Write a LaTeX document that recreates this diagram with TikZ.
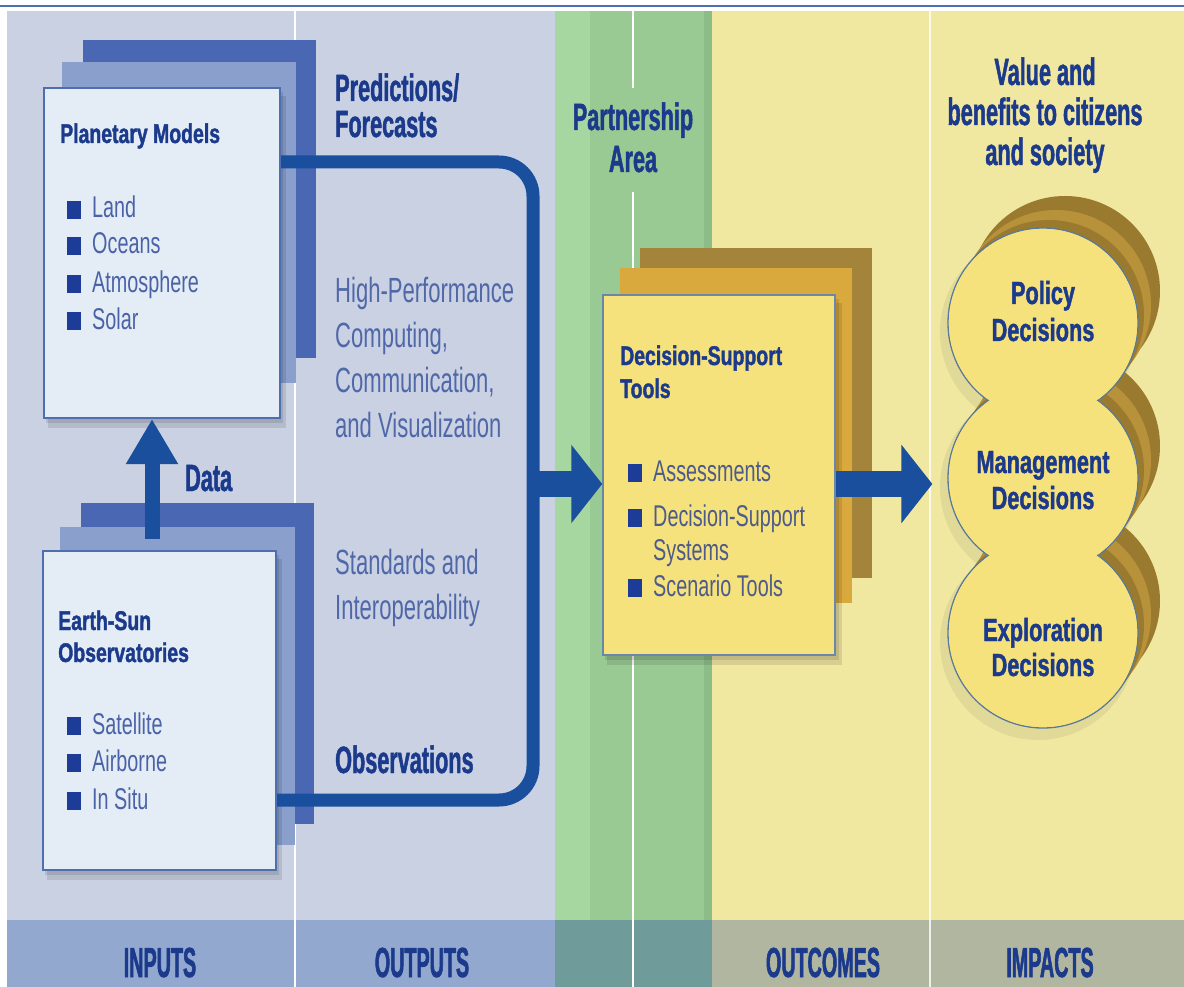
\documentclass[tikz,border=0pt]{standalone}
\usepackage{fontspec}
\usetikzlibrary{arrows.meta,calc}
\newfontfamily\fHdr{Liberation Sans}[FakeStretch=0.57, BoldFeatures={FakeBold=1.2}]
\newfontfamily\fTtl{Liberation Sans}[FakeStretch=0.72, BoldFeatures={FakeBold=1.4}]
\newfontfamily\fCir{Liberation Sans}[FakeStretch=0.68, BoldFeatures={FakeBold=1.3}]
\newfontfamily\fBody{Liberation Sans}[FakeStretch=0.63]
\newfontfamily\fItem{Liberation Sans}[FakeStretch=0.66]
\newfontfamily\fBot{Liberation Sans}[FakeStretch=0.47, BoldFeatures={FakeBold=1.3}]
\definecolor{navy}{HTML}{1B3A8C}
\definecolor{bodyblue}{HTML}{5068A8}
\definecolor{itemblue}{HTML}{4B63A6}
\definecolor{dsitem}{HTML}{4D5B8A}
\definecolor{bulcol}{HTML}{1D3C98}
\definecolor{connblue}{HTML}{1A4F9E}
\definecolor{topline}{HTML}{4F6FB5}
\definecolor{colblue}{HTML}{C9D1E3}
\definecolor{greenL}{HTML}{A6D7A0}
\definecolor{greenM}{HTML}{9ACA94}
\definecolor{greenD}{HTML}{8CBD89}
\definecolor{yel}{HTML}{F0E7A1}
\definecolor{botblue}{HTML}{93A8CF}
\definecolor{botteal}{HTML}{6F9B9B}
\definecolor{botgray}{HTML}{B1B6A1}
\definecolor{backdark}{HTML}{4A67B3}
\definecolor{backmid}{HTML}{8A9FCC}
\definecolor{boxfill}{HTML}{E4ECF6}
\definecolor{boxedge}{HTML}{4D6FB0}
\definecolor{golddark}{HTML}{A4843A}
\definecolor{goldmid}{HTML}{D9A93D}
\definecolor{goldshade}{HTML}{9A7A2E}
\definecolor{goldlight}{HTML}{B8923A}
\definecolor{yellowF}{HTML}{F6E27C}
\definecolor{dsedge}{HTML}{6A86A8}
\definecolor{circedge}{HTML}{5A7A9A}
\newcommand\bul{\textcolor{bulcol}{\rule[-1pt]{14pt}{18pt}}\hspace{11pt}}
\tikzset{
  hdr/.style={font=\fHdr\bfseries\fontsize{38}{40}\selectfont, text=navy, inner sep=0pt},
  ttl/.style={font=\fTtl\bfseries\fontsize{27}{30}\selectfont, text=navy, inner sep=0pt, anchor=base west},
  cir/.style={font=\fCir\bfseries\fontsize{32}{34}\selectfont, text=navy, inner sep=0pt, anchor=base},
  body/.style={font=\fBody\fontsize{35}{40}\selectfont, text=bodyblue, inner sep=0pt, anchor=base west},
  item/.style={font=\fItem\fontsize{30}{34}\selectfont, text=itemblue, inner sep=0pt, anchor=base west},
  dsit/.style={item, text=dsitem},
  bot/.style={font=\fBot\bfseries\fontsize{42}{44}\selectfont, text=navy, inner sep=0pt, anchor=base},
  divider/.style={draw=white, line width=1.5pt},
  frontbox/.style={draw=boxedge, line width=2pt, fill=boxfill, inner sep=0pt},
  dsbox/.style={draw=dsedge, line width=1.5pt, fill=yellowF, inner sep=0pt},
  circ/.style={circle, draw=circedge, line width=1.3pt, fill=yellowF, minimum size=190pt, inner sep=0pt},
  conn/.style={draw=connblue, line width=13pt},
  bigarrow/.style={draw=connblue, line width=26pt, -{Triangle[length=31pt,width=77pt]}},
  dataarrow/.style={draw=connblue, line width=15pt, -{Triangle[length=45pt,width=49pt]}},
  shadow/.style={fill=black, opacity=0.10},
}
\begin{document}
\begin{tikzpicture}[x=1pt,y=-1pt]
\useasboundingbox (0,0) rectangle (1184,987);
\fill[white] (0,0) rectangle (1184,987);
\draw[topline, line width=1.3pt] (0,6) -- (1184,6);
% columns
\fill[colblue] (7,11) rectangle (555,920);
\fill[greenL] (555,11) rectangle (590,920);
\fill[greenM] (590,11) rectangle (712,920);
\fill[greenD] (704,11) rectangle (712,920);
\fill[yel] (712,11) rectangle (1184,920);
\fill[botblue] (7,920) rectangle (555,987);
\fill[botteal] (555,920) rectangle (712,987);
\fill[botgray] (712,920) rectangle (1184,987);
\draw[divider] (295,11) -- (295,987);
\draw[divider] (633,11) -- (633,88);
\draw[divider] (633,192) -- (633,987);
\draw[divider, draw opacity=0.8] (930,11) -- (930,987);
% Planetary Models stack
\fill[backdark] (83,40) rectangle (316,358);
\fill[backmid] (62,62) rectangle (296,383);
\fill[shadow] (48,96) rectangle (286,428);
\fill[shadow] (46,92) rectangle (283,423);
\node[frontbox, minimum width=236pt, minimum height=330pt] (pm) at (162,253) {};
% Earth-Sun stack
\fill[backdark] (81,503) rectangle (314,824);
\fill[backmid] (60,527) rectangle (295,845);
\fill[shadow] (47,559) rectangle (282,880);
\fill[shadow] (45,555) rectangle (279,875);
\node[frontbox, minimum width=233pt, minimum height=319pt] (es) at (159.5,710.5) {};
% Decision-support stack
\fill[golddark] (640,248) rectangle (872,578);
\fill[goldmid] (620,268) rectangle (852,603);
\fill[shadow] (607,303) rectangle (842,665);
\fill[shadow] (605,299) rectangle (839,660);
\node[dsbox, minimum width=232pt, minimum height=360pt] (ds) at (719,475) {};
% impacts circles
\foreach \c in {323,478,633} {
  \fill[black, opacity=0.06] (1038,\c+9) circle (98pt);
}
\foreach \c in {323,478,633} {
  \fill[goldshade] (1065,\c-32) circle (95pt);
}
\foreach \c in {323,478,633} {
  \fill[goldlight] (1056,\c-18) circle (95pt);
}
\foreach \c in {323,478,633} {
  \fill[goldshade] (1049,\c-8) circle (95pt);
}
\node[circ] (pol) at (1043,323) {};
\node[circ] (man) at (1043,478) {};
\node[circ] (exp) at (1043,633) {};
\foreach \n in {pol,man,exp} {
  \fill[yellowF] (\n.center) circle (94pt);
}
% connectors
\coordinate (st) at (533,162);
\coordinate (sb) at (533,800);
\coordinate (sp) at (533,484);
\draw[conn, rounded corners=34pt] (pm.east |- st) -- (st) -- (sb) -- (es.east |- sb);
\draw[bigarrow] (sp) -- (ds.west |- sp);
\draw[bigarrow] (ds.east |- sp) -- ($(man.west |- sp)+(-15,0)$);
\coordinate (dS) at (152,539);
\draw[dataarrow] (dS) -- (dS |- pm.south);
% texts: headers
\node[hdr, anchor=base west] (pf1) at (335,101) {Predictions/};
\node[hdr, anchor=base west] (pf2) at (335,137) {Forecasts};
\node[hdr, anchor=base] (pa1) at (633,130) {Partnership};
\node[hdr, anchor=base] (pa2) at (633,172) {Area};
\node[hdr, anchor=base] (vb1) at (1045,85) {Value and};
\node[hdr, anchor=base] (vb2) at (1045,125) {benefits to citizens};
\node[hdr, anchor=base] (vb3) at (1045,165) {and society};
\node[hdr, anchor=base west] (obs) at (335,773) {Observations};
\node[hdr, anchor=base west] (data) at (185,491) {Data};
% middle body texts
\node[body] (hp1) at (335,302) {High-Performance};
\node[body] (hp2) at (335,347) {Computing,};
\node[body] (hp3) at (335,392) {Communication,};
\node[body] (hp4) at (335,437) {and Visualization};
\node[body] (si1) at (335,574) {Standards and};
\node[body] (si2) at (335,619) {Interoperability};
% box contents
\node[ttl] (pmt) at (60,143) {Planetary Models};
\node[item] (pm1) at (67,218) {\bul Land};
\node[item] (pm2) at (67,254) {\bul Oceans};
\node[item] (pm3) at (67,292) {\bul Atmosphere};
\node[item] (pm4) at (67,329) {\bul Solar};
\node[ttl] (est1) at (58,630) {Earth-Sun};
\node[ttl] (est2) at (58,662) {Observatories};
\node[item] (es1) at (67,734) {\bul Satellite};
\node[item] (es2) at (67,771) {\bul Airborne};
\node[item] (es3) at (67,809) {\bul In Situ};
\node[ttl] (dst1) at (620,365) {Decision-Support};
\node[ttl] (dst2) at (620,398) {Tools};
\node[dsit] (ds1) at (628,481) {\bul Assessments};
\node[dsit] (ds2) at (628,526) {\bul Decision-Support};
\node[dsit] (ds3) at (653,560) {Systems};
\node[dsit] (ds4) at (628,596) {\bul Scenario Tools};
% circle labels
\node[cir] (pol1) at (1043,304) {Policy};
\node[cir] (pol2) at (1043,341) {Decisions};
\node[cir] (man1) at (1043,473) {Management};
\node[cir] (man2) at (1043,509) {Decisions};
\node[cir] (exp1) at (1043,641) {Exploration};
\node[cir] (exp2) at (1043,676) {Decisions};
% bottom labels
\node[bot] (lin) at (160,977) {INPUTS};
\node[bot] (lout) at (422,977) {OUTPUTS};
\node[bot] (loc) at (823,977) {OUTCOMES};
\node[bot] (lim) at (1050,977) {IMPACTS};
\end{tikzpicture}
\end{document}
